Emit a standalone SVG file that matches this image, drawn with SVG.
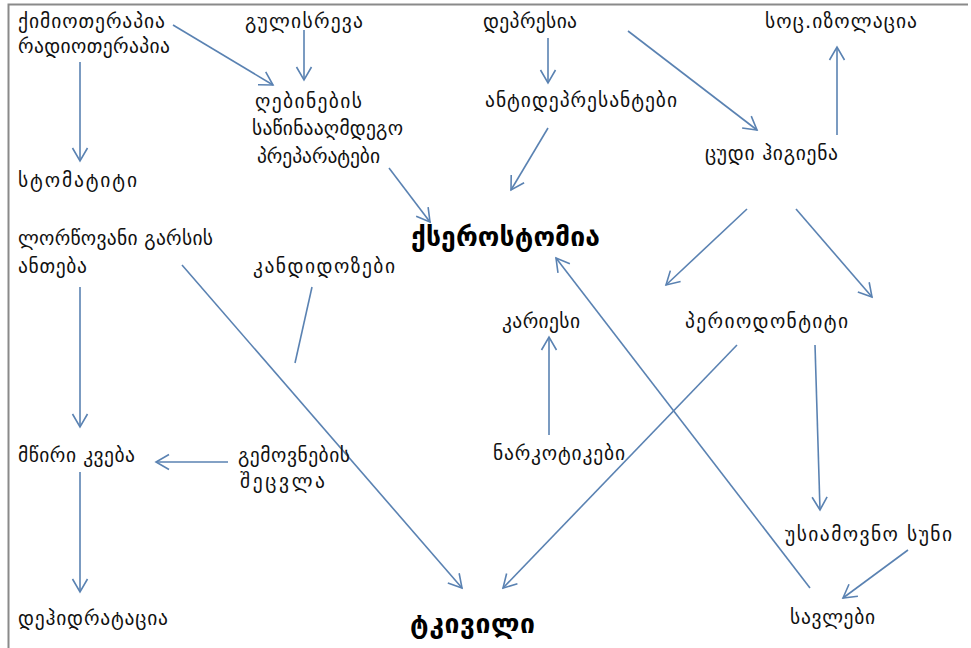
<svg xmlns="http://www.w3.org/2000/svg" width="971" height="648" viewBox="0 0 971 648">
<style>
text{font-family:"DejaVu Sans","Noto Sans",sans-serif;font-size:19.5px;fill:#111}
text.b{font-size:26.5px;font-weight:bold;fill:#000}
.c line{stroke:#5a82b2;stroke-width:1.6;fill:none}
</style>
<defs>
<marker id="ah" markerUnits="userSpaceOnUse" viewBox="-14 -9 16 18" markerWidth="16" markerHeight="18" refX="0" refY="0" orient="auto">
<path d="M-13,-7.5 L0,0 L-13,7.5" fill="none" stroke="#5a82b2" stroke-width="1.6"/>
</marker>
</defs>
<rect width="971" height="648" fill="#fff"/>
<path d="M8.5,648 V4.5 H968" fill="none" stroke="#8a8a8a" stroke-width="2"/>
<g class="c" id="connectors">
<line x1="173" y1="25" x2="273" y2="85" marker-end="url(#ah)"/>
<line x1="304" y1="30" x2="304" y2="80" marker-end="url(#ah)"/>
<line x1="80" y1="62" x2="80" y2="161" marker-end="url(#ah)"/>
<line x1="389" y1="168" x2="430" y2="222" marker-end="url(#ah)"/>
<line x1="548" y1="38" x2="548" y2="83" marker-end="url(#ah)"/>
<line x1="628" y1="31" x2="757" y2="130" marker-end="url(#ah)"/>
<line x1="548" y1="128" x2="511" y2="190" marker-end="url(#ah)"/>
<line x1="837" y1="135" x2="837" y2="47" marker-end="url(#ah)"/>
<line x1="747" y1="209" x2="666" y2="285" marker-end="url(#ah)"/>
<line x1="796" y1="209" x2="872" y2="297" marker-end="url(#ah)"/>
<line x1="810" y1="588" x2="556" y2="258" marker-end="url(#ah)"/>
<line x1="549" y1="435" x2="549" y2="337" marker-end="url(#ah)"/>
<line x1="737" y1="345" x2="503" y2="588" marker-end="url(#ah)"/>
<line x1="815" y1="345" x2="820" y2="510" marker-end="url(#ah)"/>
<line x1="908" y1="550" x2="843" y2="598" marker-end="url(#ah)"/>
<line x1="182" y1="265" x2="462" y2="588" marker-end="url(#ah)"/>
<line x1="312" y1="287" x2="295" y2="363"/>
<line x1="80" y1="287" x2="80" y2="427" marker-end="url(#ah)"/>
<line x1="228" y1="462" x2="156" y2="462" marker-end="url(#ah)"/>
<line x1="80" y1="472" x2="80" y2="592" marker-end="url(#ah)"/>
</g>
<g id="n-chemo"><text x="18" y="28" textLength="147">ქიმიოთერაპია</text><text x="18" y="53" textLength="152">რადიოთერაპია</text></g>
<g id="n-nausea"><text x="245" y="28" textLength="118">გულისრევა</text></g>
<g id="n-depression"><text x="483" y="28" textLength="94">დეპრესია</text></g>
<g id="n-isolation"><text x="765" y="28" textLength="152">სოც.იზოლაცია</text></g>
<g id="n-antiemetic"><text x="255" y="108" textLength="107">ღებინების</text><text x="252" y="135" textLength="151">საწინააღმდეგო</text><text x="257" y="163" textLength="123">პრეპარატები</text></g>
<g id="n-antidepressants"><text x="485" y="107" textLength="192">ანტიდეპრესანტები</text></g>
<g id="n-hygiene"><text x="705" y="160" textLength="133">ცუდი ჰიგიენა</text></g>
<g id="n-stomatitis"><text x="18" y="187" textLength="119">სტომატიტი</text></g>
<g id="n-xerostomia"><text class="b" x="411" y="246" textLength="189">ქსეროსტომია</text></g>
<g id="n-mucositis"><text x="18" y="245" textLength="195">ლორწოვანი გარსის</text><text x="18" y="273" textLength="69">ანთება</text></g>
<g id="n-candidosis"><text x="253" y="273" textLength="142">კანდიდოზები</text></g>
<g id="n-caries"><text x="502" y="328" textLength="78">კარიესი</text></g>
<g id="n-periodontitis"><text x="685" y="328" textLength="163">პერიოდონტიტი</text></g>
<g id="n-malnutrition"><text x="18" y="462" textLength="117">მწირი კვება</text></g>
<g id="n-taste"><text x="238" y="462" textLength="112">გემოვნების</text><text x="240" y="488" textLength="85">შეცვლა</text></g>
<g id="n-narcotics"><text x="493" y="460" textLength="132">ნარკოტიკები</text></g>
<g id="n-halitosis"><text x="785" y="541" textLength="167">უსიამოვნო სუნი</text></g>
<g id="n-dehydration"><text x="18" y="625" textLength="150">დეჰიდრატაცია</text></g>
<g id="n-pain"><text class="b" x="410" y="633" textLength="125">ტკივილი</text></g>
<g id="n-mouthwash"><text x="790" y="624" textLength="85">სავლები</text></g>
</svg>
